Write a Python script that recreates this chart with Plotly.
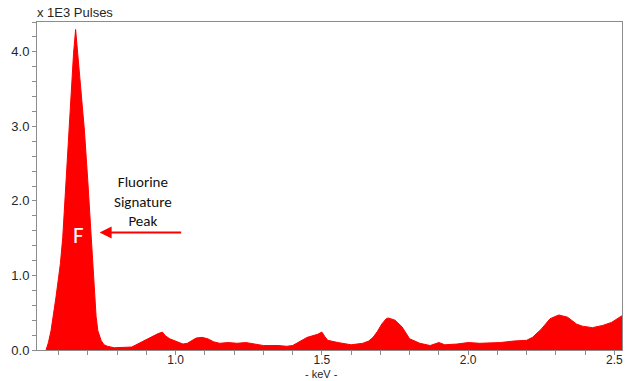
import plotly.graph_objects as go

# Spectrum (energy in keV, counts in thousands of pulses)
energy_kev = [0.557, 0.565, 0.574, 0.583, 0.591, 0.600, 0.606, 0.614, 0.624, 0.634,
              0.643, 0.651, 0.658, 0.665, 0.676, 0.688, 0.700, 0.712, 0.718, 0.723,
              0.728, 0.734, 0.745, 0.755, 0.767, 0.790, 0.820, 0.850, 0.875, 0.900,
              0.920, 0.940, 0.955, 0.965, 0.980, 1.000, 1.025, 1.040, 1.055, 1.070,
              1.090, 1.110, 1.130, 1.150, 1.180, 1.210, 1.240, 1.265, 1.300, 1.350,
              1.380, 1.400, 1.415, 1.450, 1.485, 1.500, 1.510, 1.520, 1.555, 1.600,
              1.640, 1.660, 1.675, 1.690, 1.705, 1.720, 1.727, 1.750, 1.774, 1.790,
              1.800, 1.835, 1.870, 1.900, 1.920, 1.962, 2.000, 2.040, 2.065, 2.110,
              2.155, 2.200, 2.220, 2.250, 2.280, 2.310, 2.340, 2.370, 2.390, 2.425,
              2.460, 2.490, 2.526]
pulses_k = [0.00, 0.10, 0.26, 0.48, 0.71, 0.98, 1.16, 1.51, 2.20, 2.95,
            3.55, 3.98, 4.30, 3.98, 3.50, 2.95, 2.25, 1.51, 1.16, 0.71,
            0.45, 0.26, 0.13, 0.07, 0.05, 0.03, 0.03, 0.04, 0.09, 0.14,
            0.19, 0.22, 0.24, 0.19, 0.15, 0.12, 0.08, 0.09, 0.13, 0.16,
            0.17, 0.15, 0.11, 0.09, 0.10, 0.09, 0.10, 0.08, 0.06, 0.06,
            0.05, 0.06, 0.09, 0.17, 0.21, 0.24, 0.18, 0.13, 0.10, 0.07,
            0.09, 0.12, 0.17, 0.25, 0.35, 0.42, 0.43, 0.40, 0.31, 0.21,
            0.15, 0.09, 0.06, 0.10, 0.07, 0.08, 0.10, 0.09, 0.09, 0.10,
            0.12, 0.13, 0.17, 0.28, 0.42, 0.47, 0.44, 0.35, 0.32, 0.30,
            0.33, 0.37, 0.46]

x_tick_vals = [1.0, 1.5, 2.0, 2.5]
x_tick_text = ["1.0", "1.5", "2.0", "2.5"]
y_tick_vals = [0, 1, 2, 3, 4]
y_tick_text = ["0.0", "1.0", "2.0", "3.0", "4.0"]

peak_label = "F"
peak_note = "Fluorine<br>Signature<br>Peak"
peak_note_pos = (0.887, 1.99)
arrow_tail = (1.024, 1.577)
arrow_head = (0.740, 1.577)
f_label_pos = (0.669, 1.54)

fig = go.Figure()
fig.add_trace(go.Scatter(
    x=energy_kev, y=pulses_k, mode="lines",
    line=dict(color="#ff0000", width=1),
    fill="tozeroy", fillcolor="#ff0000",
    hoverinfo="skip", showlegend=False,
))

axis_common = dict(
    showline=True, linecolor="#8c8c8c", linewidth=1, mirror=True,
    showgrid=False, zeroline=False,
    ticks="outside", ticklen=4, tickcolor="#8c8c8c",
)

fig.update_xaxes(range=[0.526, 2.526], tickvals=x_tick_vals, ticktext=x_tick_text,
                 ticklabelstandoff=-5,
                 tickfont=dict(family="Liberation Sans, Arial", size=12, color="#262626"),
                 minor=dict(dtick=0.1, ticks="outside", ticklen=4, tickcolor="#8c8c8c"),
                 **axis_common)
fig.update_yaxes(range=[0, 4.40], tickvals=y_tick_vals, ticktext=y_tick_text,
                 tickfont=dict(family="Liberation Sans, Arial", size=13, color="#262626"),
                 minor=dict(dtick=0.2, ticks="outside", ticklen=4, tickcolor="#8c8c8c"),
                 **axis_common)

fig.add_annotation(x=0, y=1, xref="paper", yref="paper", xanchor="left", yanchor="bottom",
                   text="x 1E3 Pulses", showarrow=False, xshift=-2, yshift=0,
                   font=dict(family="Liberation Sans, Arial", size=13, color="#262626"))
fig.add_annotation(x=1.5, y=0, xref="x", yref="paper", xanchor="center", yanchor="top",
                   text="- keV -", showarrow=False, yshift=-16.5, borderpad=0,
                   font=dict(family="Liberation Sans, Arial", size=11, color="#262626"))
fig.add_annotation(x=peak_note_pos[0], y=peak_note_pos[1], xref="x", yref="y",
                   text=peak_note, showarrow=False, align="center",
                   font=dict(family="Carlito, Lato, sans-serif", size=15, color="#111111"))
fig.add_annotation(x=arrow_head[0], y=arrow_head[1], ax=arrow_tail[0], ay=arrow_tail[1],
                   xref="x", yref="y", axref="x", ayref="y", text="",
                   showarrow=True, arrowhead=2, arrowsize=1.2, arrowwidth=2,
                   arrowcolor="#ff0000")
fig.add_annotation(x=f_label_pos[0], y=f_label_pos[1], xref="x", yref="y",
                   text=peak_label, showarrow=False,
                   font=dict(family="Carlito, Lato, sans-serif", size=23, color="#ffffff"))

fig.update_layout(
    width=628, height=381,
    margin=dict(l=37, r=6, t=22, b=31),
    paper_bgcolor="#ffffff", plot_bgcolor="#ffffff",
)

fig.write_html("out.html",
               config={"displayModeBar": False},
               post_script="document.body.style.margin='0';document.body.style.padding='0';")
